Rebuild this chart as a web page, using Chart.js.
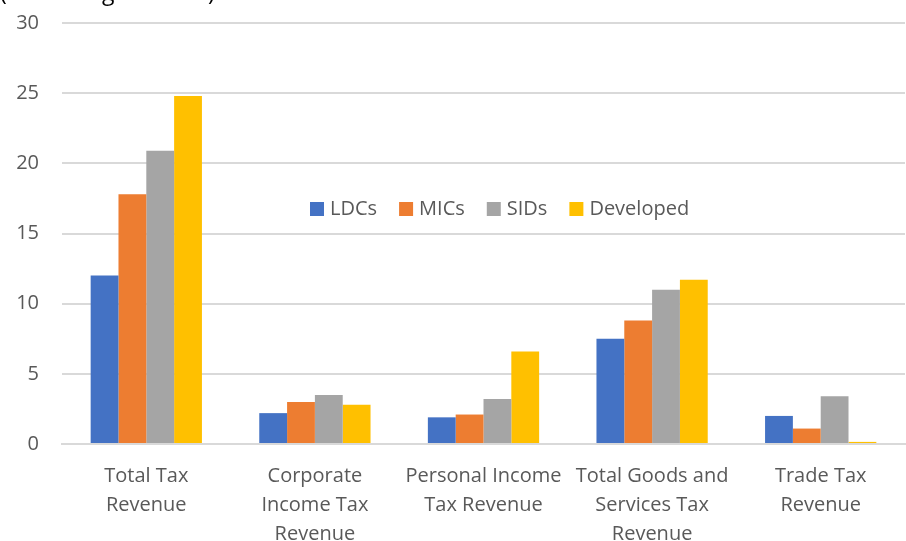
<!DOCTYPE html>
<html>
<head>
<meta charset="utf-8">
<script src="https://cdn.jsdelivr.net/npm/chart.js@4"></script>
<style>
    html, body { margin: 0; padding: 0; background: #fff; overflow: hidden; }
    #wrap { position: relative; width: 906px; height: 541px; }
    #unit { position: absolute; left: 0; top: -20px; font: 23px/22px "Open Sans", sans-serif; color: #000; white-space: nowrap; }
</style>
</head>
<body>
<div id="wrap">
    <canvas id="chart" width="906" height="541"></canvas>
    <div id="unit">(Percentage of GDP)</div>
</div>
<script>
const kategorije = [
    ["Total Tax", "Revenue"],
    ["Corporate", "Income Tax", "Revenue"],
    ["Personal Income", "Tax Revenue"],
    ["Total Goods and", "Services Tax", "Revenue"],
    ["Trade Tax", "Revenue"]
];
const ldcs = [12.0, 2.2, 1.9, 7.5, 2.0];
const mics = [17.8, 3.0, 2.1, 8.8, 1.1];
const sids = [20.9, 3.5, 3.2, 11.0, 3.4];
const developed = [24.8, 2.8, 6.6, 11.7, 0.15];
const yTicks = [0, 5, 10, 15, 20, 25, 30];

const boje = ["#4472C4", "#ED7D31", "#A5A5A5", "#FFC000"];
const font = "'Open Sans', sans-serif";

// legenda unutar grafa, kao u originalu
const legendaPlugin = {
    id: "legendaUnutra",
    afterDraw(chart) {
        const ctx = chart.ctx;
        ctx.save();
        ctx.font = "20px " + font;
        ctx.textBaseline = "middle";
        let x = 310;
        const y = 209;
        chart.data.datasets.forEach(ds => {
            ctx.fillStyle = ds.backgroundColor;
            ctx.fillRect(x, y - 7, 14, 14);
            ctx.fillStyle = "#595959";
            ctx.fillText(ds.label, x + 20, y);
            x += 20 + ctx.measureText(ds.label).width + 22;
        });
        ctx.restore();
    }
};

new Chart(document.getElementById("chart"), {
    type: "bar",
    data: {
        labels: kategorije,
        datasets: [
            { label: "LDCs", data: ldcs, backgroundColor: boje[0] },
            { label: "MICs", data: mics, backgroundColor: boje[1] },
            { label: "SIDs", data: sids, backgroundColor: boje[2] },
            { label: "Developed", data: developed, backgroundColor: boje[3] },
        ],
    },
    options: {
        responsive: false,
        animation: false,
        layout: { padding: { top: 23, right: 1, left: 0, bottom: 0 } },
        datasets: { bar: { barPercentage: 1, categoryPercentage: 0.66 } },
        plugins: { legend: { display: false }, tooltip: { enabled: false } },
        scales: {
            x: {
                grid: { display: false, drawTicks: false },
                border: { color: "#d9d9d9", width: 2 },
                ticks: { color: "#595959", font: { size: 20, family: font, lineHeight: 1.45 }, padding: 18, maxRotation: 0, autoSkip: false },
                afterFit: s => { s.height = 97; s.paddingLeft = 0; s.paddingRight = 0; },
            },
            y: {
                min: 0,
                max: 30,
                afterBuildTicks: s => { s.ticks = yTicks.map(v => ({ value: v })); },
                grid: { color: "#d9d9d9", lineWidth: 2, drawTicks: false },
                border: { display: false },
                ticks: { color: "#595959", font: { size: 20, family: font }, padding: 23 },
                afterFit: s => { s.width = 62; s.paddingTop = 0; s.paddingBottom = 0; },
            },
        },
    },
    plugins: [legendaPlugin],
});
</script>
</body>
</html>
